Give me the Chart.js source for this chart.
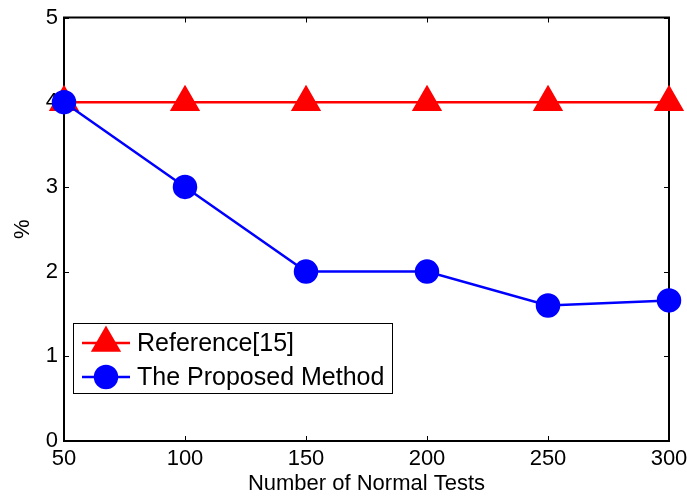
<!DOCTYPE html>
<html>
<head>
<meta charset="utf-8">
<title>Normal tests chart</title>
<script src="https://cdn.jsdelivr.net/npm/chart.js@4.4.0/dist/chart.umd.min.js"></script>
<style>
    html, body { margin: 0; padding: 0; background: #fff; }
    #wrap { width: 687px; height: 497px; position: relative; }
</style>
</head>
<body>
<div id="wrap"><canvas id="testsChart"></canvas></div>
<script>
// chart data
const normalTests = [50, 100, 150, 200, 250, 300];
const reference15 = [4, 4, 4, 4, 4, 4];
const proposedMethod = [4, 3, 2, 2, 1.6, 1.66];
const seriesLabels = ['Reference[15]', 'The Proposed Method'];
const xTicks = [50, 100, 150, 200, 250, 300];
const yTicks = [0, 1, 2, 3, 4, 5];

const FONT = '"Liberation Sans", Arial, sans-serif';

function toPoints(values) {
    return normalTests.map((x, i) => ({ x: x, y: values[i] }));
}

// box round the plot + inward tick marks (matlab style)
const frameAndTicks = {
    id: 'frameAndTicks',
    beforeDatasetsDraw(chart) {
        const { ctx, chartArea: a, scales } = chart;
        const len = 5;
        ctx.save();
        ctx.strokeStyle = '#000';
        ctx.lineWidth = 1;
        ctx.beginPath();
        xTicks.forEach(v => {
            const px = Math.round(scales.x.getPixelForValue(v)) + 0.5;
            ctx.moveTo(px, a.bottom); ctx.lineTo(px, a.bottom - len);
            ctx.moveTo(px, a.top); ctx.lineTo(px, a.top + len);
        });
        yTicks.forEach(v => {
            const py = Math.round(scales.y.getPixelForValue(v)) + 0.5;
            ctx.moveTo(a.left, py); ctx.lineTo(a.left + len, py);
            ctx.moveTo(a.right, py); ctx.lineTo(a.right - len, py);
        });
        ctx.stroke();
        ctx.lineWidth = 2;
        ctx.strokeRect(a.left, a.top, a.right - a.left, a.bottom - a.top);
        ctx.restore();
    }
};

// legend box inside the plot, bottom-left
const innerLegend = {
    id: 'innerLegend',
    afterDraw(chart) {
        const { ctx } = chart;
        const box = { x: 73, y: 323, w: 319, h: 70 };
        ctx.save();
        ctx.fillStyle = '#fff';
        ctx.fillRect(box.x, box.y, box.w, box.h);
        ctx.strokeStyle = '#000';
        ctx.lineWidth = 1;
        ctx.strokeRect(box.x + 0.5, box.y + 0.5, box.w, box.h);

        const rows = [343, 377];
        chart.data.datasets.forEach((ds, i) => {
            const y = rows[i];
            ctx.strokeStyle = ds.borderColor;
            ctx.lineWidth = ds.borderWidth;
            ctx.beginPath();
            ctx.moveTo(82, y);
            ctx.lineTo(130, y);
            ctx.stroke();
            Chart.helpers.drawPoint(ctx, {
                pointStyle: ds.pointStyle,
                radius: ds.pointRadius,
                borderWidth: 1
            }, 106, y);
            ctx.fillStyle = ds.pointBackgroundColor;
            ctx.strokeStyle = ds.pointBorderColor;
            ctx.lineWidth = 1;
            ctx.fill();
            ctx.stroke();

            ctx.fillStyle = '#000';
            ctx.font = '25px ' + FONT;
            ctx.textBaseline = 'middle';
            ctx.fillText(seriesLabels[i], 137, y + 1);
        });
        ctx.restore();
    }
};

const ctx = document.getElementById('testsChart');

new Chart(ctx, {
    type: 'line',
    data: {
        datasets: [
            {
                label: seriesLabels[0],
                data: toPoints(reference15),
                borderColor: '#ff0000',
                backgroundColor: '#ff0000',
                pointBackgroundColor: '#ff0000',
                pointBorderColor: '#ff0000',
                pointStyle: 'triangle',
                pointRadius: 15,
                borderWidth: 2.5,
                order: 2,
                clip: false
            },
            {
                label: seriesLabels[1],
                data: toPoints(proposedMethod),
                borderColor: '#0000ff',
                backgroundColor: '#0000ff',
                pointBackgroundColor: '#0000ff',
                pointBorderColor: '#0000ff',
                pointStyle: 'circle',
                pointRadius: 11,
                borderWidth: 2.5,
                order: 1,
                clip: false
            }
        ]
    },
    options: {
        responsive: true,
        maintainAspectRatio: false,
        animation: false,
        layout: { padding: { top: 13, right: 18, left: 0, bottom: 0 } },
        plugins: {
            legend: { display: false },
            tooltip: { enabled: false }
        },
        scales: {
            x: {
                type: 'linear',
                min: 50,
                max: 300,
                afterFit(scale) {
                    scale.height = 56;
                    scale.paddingLeft = 0;
                    scale.paddingRight = 0;
                },
                afterBuildTicks(scale) { scale.ticks = xTicks.map(v => ({ value: v })); },
                grid: { display: true, drawOnChartArea: false, drawTicks: false },
                border: { display: false },
                ticks: {
                    padding: 5,
                    color: '#000',
                    maxRotation: 0,
                    font: { family: FONT, size: 22 }
                },
                title: {
                    display: true,
                    text: 'Number of Normal Tests',
                    color: '#000',
                    padding: { top: 0, bottom: 0 },
                    font: { family: FONT, size: 22 }
                }
            },
            y: {
                min: 0,
                max: 5,
                afterFit(scale) {
                    scale.width = 64;
                    scale.paddingTop = 0;
                    scale.paddingBottom = 0;
                },
                afterBuildTicks(scale) { scale.ticks = yTicks.map(v => ({ value: v })); },
                grid: { display: true, drawOnChartArea: false, drawTicks: false },
                border: { display: false },
                ticks: {
                    padding: 6,
                    color: '#000',
                    font: { family: FONT, size: 22 }
                },
                title: {
                    display: true,
                    text: '%',
                    color: '#000',
                    padding: { top: 10, bottom: 0 },
                    font: { family: FONT, size: 22 }
                }
            }
        }
    },
    plugins: [frameAndTicks, innerLegend]
});
</script>
</body>
</html>
